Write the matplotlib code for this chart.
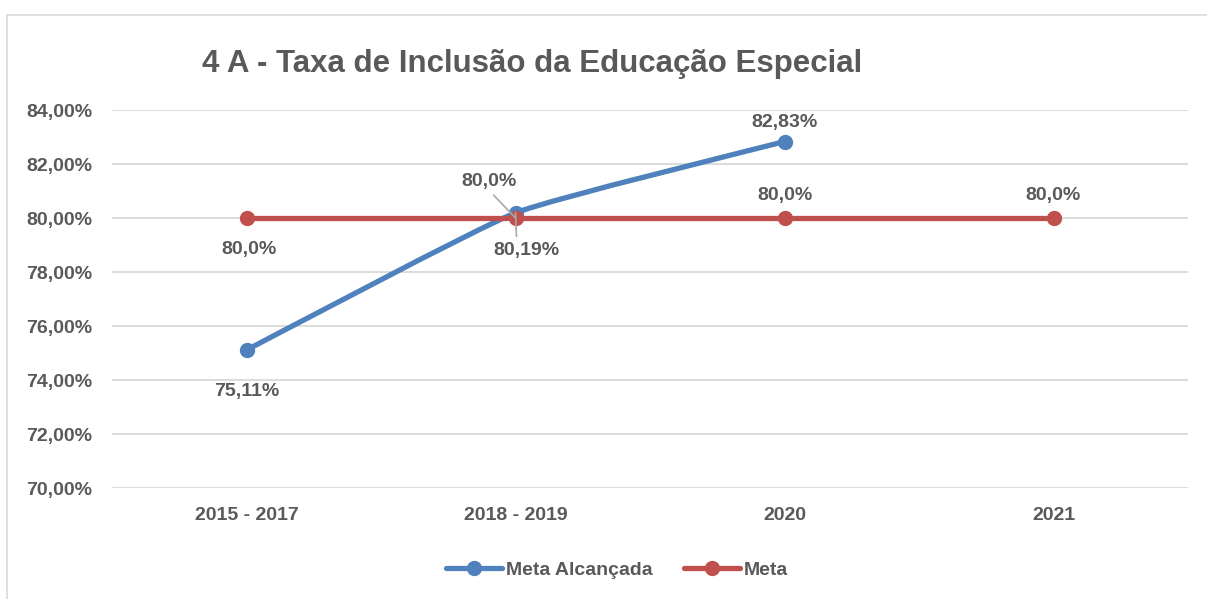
import matplotlib
matplotlib.use("Agg")
import matplotlib.pyplot as plt
from matplotlib import font_manager
from matplotlib.path import Path
from matplotlib.patches import PathPatch
from matplotlib.lines import Line2D
import numpy as np

categories = ["2015 - 2017", "2018 - 2019", "2020", "2021"]
meta_alcancada = [75.11, 80.19, 82.83]
meta = [80.0, 80.0, 80.0, 80.0]
alc_labels = ["75,11%", "80,19%", "82,83%"]
meta_labels = ["80,0%", "80,0%", "80,0%", "80,0%"]
yticks = [70, 72, 74, 76, 78, 80, 82, 84]
ytick_labels = ["70,00%", "72,00%", "74,00%", "76,00%", "78,00%", "80,00%", "82,00%", "84,00%"]

names = {f.name for f in font_manager.fontManager.ttflist}
fam = ["Liberation Sans Narrow", "Liberation Sans", "DejaVu Sans"]
fam = [f for f in fam if f in names] or ["DejaVu Sans"]
plt.rcParams["font.family"] = fam

TXT = "#595959"
BLUE = "#4F81BD"
RED = "#C0504D"

fig = plt.figure(figsize=(12.07, 5.99), dpi=100)
ax = fig.add_axes([112/1207, 1 - 488/599, (1188-112)/1207, (488-110)/599])

x = np.arange(len(categories))
ax.set_xlim(-0.5, len(categories) - 0.5)
ax.set_ylim(70, 84)

# mildly smoothed curve for Meta Alcançada (Excel-like smoothing via Bezier)
xa = x[:len(meta_alcancada)].astype(float)
ya = np.array(meta_alcancada)
verts = [(xa[0], ya[0])]
codes = [Path.MOVETO]
t = 0.07
n = len(xa)
for i in range(n - 1):
    p0 = (xa[max(i-1, 0)], ya[max(i-1, 0)])
    p1 = (xa[i], ya[i])
    p2 = (xa[i+1], ya[i+1])
    p3 = (xa[min(i+2, n-1)], ya[min(i+2, n-1)])
    c1 = (p1[0] + (p2[0]-p0[0])*t, p1[1] + (p2[1]-p0[1])*t)
    c2 = (p2[0] - (p3[0]-p1[0])*t, p2[1] - (p3[1]-p1[1])*t)
    verts += [c1, c2, p2]
    codes += [Path.CURVE4]*3
ax.add_patch(PathPatch(Path(verts, codes), fill=False, edgecolor=BLUE, lw=3.8,
                       capstyle="round", joinstyle="round", zorder=3))
ax.plot(xa, ya, linestyle="none", marker="o", ms=10, color=BLUE, zorder=4)

ax.plot(x, meta, color=RED, lw=3.8, marker="o", ms=10, zorder=5,
        solid_capstyle="round")

ax.set_yticks(yticks)
ax.set_yticklabels(ytick_labels)
ax.set_xticks(x)
ax.set_xticklabels(categories)
ax.grid(axis="y", color="#D9D9D9", lw=1.3)
ax.set_axisbelow(True)
for s in ax.spines.values():
    s.set_visible(False)
ax.tick_params(length=0, labelsize=14, labelcolor=TXT)
for lab in ax.get_xticklabels() + ax.get_yticklabels():
    lab.set_fontweight("bold")
ax.tick_params(axis="x", pad=14)
ax.tick_params(axis="y", pad=14)

lab_kw = dict(fontsize=14, fontweight="bold", color=TXT, ha="center", va="center", zorder=6)
lead = dict(arrowstyle="-", color="#A6A6A6", lw=1.2, shrinkA=2, shrinkB=0)
# Meta Alcançada labels
ax.annotate(alc_labels[0], (xa[0], ya[0]), xytext=(0, -30), textcoords="offset points", **lab_kw)
ax.annotate(alc_labels[1], (xa[1], ya[1]), xytext=(8, -27), textcoords="offset points",
            arrowprops=dict(relpos=(0.35, 1.0), **lead), **lab_kw)
ax.annotate(alc_labels[2], (xa[2], ya[2]), xytext=(0, 14), textcoords="offset points", **lab_kw)
# Meta labels
ax.annotate(meta_labels[0], (x[0], meta[0]), xytext=(2, -23), textcoords="offset points", **lab_kw)
ax.annotate(meta_labels[1], (x[1], meta[1]), xytext=(-19, 26), textcoords="offset points",
            arrowprops=dict(relpos=(0.5, 0.0), **lead), **lab_kw)
ax.annotate(meta_labels[2], (x[2], meta[2]), xytext=(0, 16), textcoords="offset points", **lab_kw)
ax.annotate(meta_labels[3], (x[3], meta[3]), xytext=(0, 16), textcoords="offset points", **lab_kw)

fig.text(532/1207, 1 - 64/599, "4 A - Taxa de Inclusão da Educação Especial", fontsize=22.5,
         fontweight="bold", color=TXT, ha="center", va="center")

handles = [Line2D([], [], color=BLUE, lw=3.8, marker="o", ms=10, solid_capstyle="round"),
           Line2D([], [], color=RED, lw=3.8, marker="o", ms=10, solid_capstyle="round")]
leg = fig.legend(handles, ["Meta Alcançada", "Meta"], loc="center", bbox_to_anchor=(617/1207, 1 - 570/599),
                 ncol=2, frameon=False, handlelength=2.9, handletextpad=0.2, columnspacing=1.6,
                 prop=dict(size=14, weight="bold"))
for t_ in leg.get_texts():
    t_.set_color(TXT)

# outer border
fig.add_artist(plt.Rectangle((7/1207, -0.05), 1.2, 1 - 15/599 + 0.05, transform=fig.transFigure,
                             fill=False, edgecolor="#D9D9D9", lw=1.2))

fig.savefig("out.png", dpi=100)
